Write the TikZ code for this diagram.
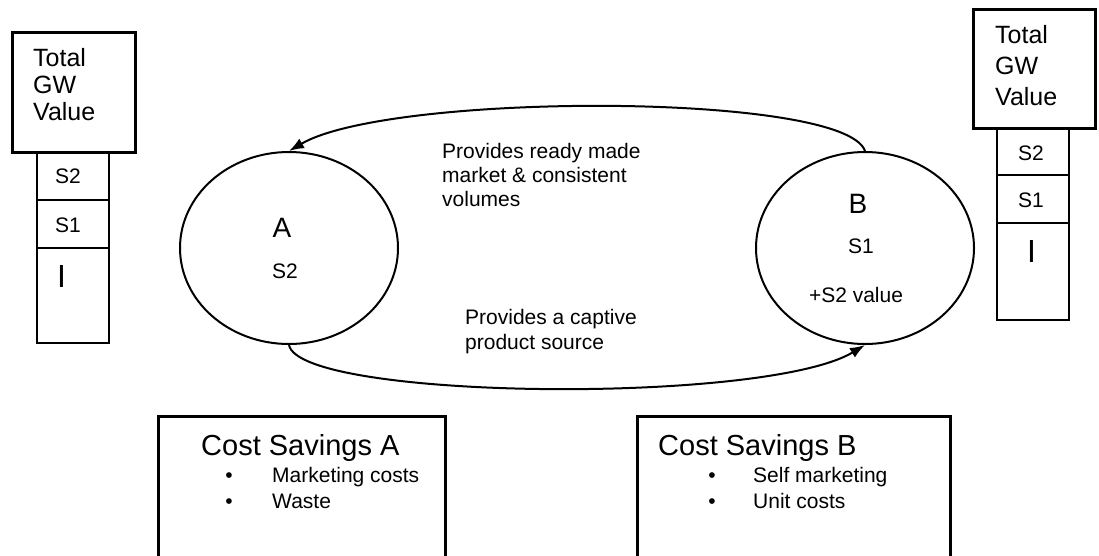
\documentclass[tikz,border=0pt]{standalone}
\usepackage{fontspec}
\setmainfont{Liberation Sans}
\usetikzlibrary{arrows.meta,shapes.geometric}
\tikzset{
  gwbox/.style={line width=3pt},
  cellbox/.style={line width=2.6pt},
  unit/.style={draw,ellipse,line width=2pt,minimum width=218pt,minimum height=192pt},
  flow/.style={-{Latex[length=15pt,width=11pt]},line width=2pt},
  txt/.style={inner sep=0pt,align=left,font=\fontsize{21}{24}\selectfont},
  big/.style={inner sep=0pt,font=\fontsize{28}{32}\selectfont}
}
\begin{document}
\begin{tikzpicture}[x=1pt,y=-1pt]
    \useasboundingbox (0,0) rectangle (1099,555);
    \clip (0,0) rectangle (1099,555);

    % left value stack
    \draw[gwbox] (12,32) rectangle (135,152);
    \node[txt,anchor=west,font=\fontsize{25}{27}\selectfont] (gwL) at (33,85) {Total\\GW\\Value};
    \draw[cellbox] (37,152) rectangle (109,343);
    \draw[line width=2pt] (37,200) -- (109,200);
    \draw[line width=2pt] (37,248) -- (109,248);
    \node[txt,anchor=base west] (sL2) at (55,183) {S2};
    \node[txt,anchor=base west] (sL1) at (55,232) {S1};
    \node[txt,anchor=base west,font=\fontsize{32}{36}\selectfont] (iL) at (57,287) {I};

    % right value stack
    \draw[gwbox] (973,9) rectangle (1095,128);
    \node[txt,anchor=west,font=\fontsize{25}{31}\selectfont] (gwR) at (995,66) {Total\\GW\\Value};
    \draw[cellbox] (997,128) rectangle (1069,320);
    \draw[line width=2pt] (997,175) -- (1069,175);
    \draw[line width=2pt] (997,223) -- (1069,223);
    \node[txt,anchor=base west] (sR2) at (1018,160) {S2};
    \node[txt,anchor=base west] (sR1) at (1018,207) {S1};
    \node[txt,anchor=base west,font=\fontsize{32}{36}\selectfont] (iR) at (1027,262) {I};

    % the two businesses
    \node[unit] (A) at (289,248) {};
    \node[unit] (B) at (865,248) {};
    \node[big,anchor=base] (nameA) at (282,237) {A};
    \node[txt,anchor=base] (valA) at (285,278) {S2};
    \node[big,anchor=base] (nameB) at (858,213) {B};
    \node[txt,anchor=base] (valB) at (861,253) {S1};
    \node[txt,anchor=base] (plusB) at (856,302) {+S2 value};

    \draw[flow] (B.north) .. controls (845,92) and (390,92) .. (A.north);
    \draw[flow] (A.south) .. controls (300,400) and (765,405) .. (B.south);
    \node[txt,anchor=west] (market) at (442,174.5) {Provides ready made\\market \& consistent\\volumes};
    \node[txt,anchor=west,font=\fontsize{21}{25}\selectfont] (source) at (465,332) {Provides a captive\\product source};

    % cost savings
    \draw[gwbox] (158,416) rectangle (445,570);
    \node[txt,anchor=base west,font=\fontsize{29}{32}\selectfont] (costA) at (201,455) {Cost Savings A};
    \node[txt,anchor=base] (bA1) at (229,482) {\textbullet};
    \node[txt,anchor=base west] (itA1) at (272,482) {Marketing costs};
    \node[txt,anchor=base] (bA2) at (229,508) {\textbullet};
    \node[txt,anchor=base west] (itA2) at (272,508) {Waste};

    \draw[gwbox] (637,416) rectangle (950,570);
    \node[txt,anchor=base west,font=\fontsize{29}{32}\selectfont] (costB) at (658,455) {Cost Savings B};
    \node[txt,anchor=base] (bB1) at (712,482) {\textbullet};
    \node[txt,anchor=base west] (itB1) at (753,482) {Self marketing};
    \node[txt,anchor=base] (bB2) at (712,508) {\textbullet};
    \node[txt,anchor=base west] (itB2) at (753,508) {Unit costs};
  \end{tikzpicture}
\end{document}
